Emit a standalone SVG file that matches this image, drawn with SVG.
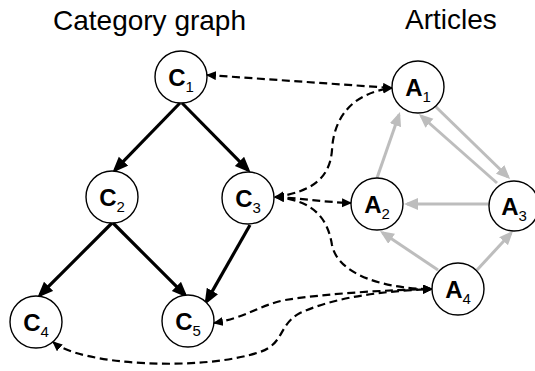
<svg xmlns="http://www.w3.org/2000/svg" width="535" height="371" viewBox="0 0 535 371">
  <style>
    .title { font-family: "Liberation Sans", Arial, sans-serif; font-size: 28px; fill: #000; }
    .node circle { fill: #fff; stroke: #000; stroke-width: 1.4; }
    .node text { font-family: "Liberation Sans", Arial, sans-serif; font-size: 24px; font-weight: bold; fill: #000; text-anchor: middle; }
    .node tspan { font-size: 15px; font-weight: normal; }
    .tree { fill: none; stroke: #000; stroke-width: 3.2; marker-end: url(#headBlack); }
    .link { fill: none; stroke: #bdbdbd; stroke-width: 3; marker-end: url(#headGray); }
    .assoc { fill: none; stroke: #000; stroke-width: 2.2; stroke-dasharray: 8 4.5; marker-start: url(#headDash); marker-end: url(#headDash); }
  </style>
  <defs>
    <marker id="headBlack" markerUnits="userSpaceOnUse" markerWidth="17" markerHeight="14" refX="12" refY="6.5" orient="auto">
      <path d="M0,0 L16,6.5 L0,13 z" fill="#000"/>
    </marker>
    <marker id="headGray" markerUnits="userSpaceOnUse" markerWidth="15" markerHeight="13" refX="11" refY="6" orient="auto">
      <path d="M0,0 L14,6 L0,12 z" fill="#bdbdbd"/>
    </marker>
    <marker id="headDash" markerUnits="userSpaceOnUse" markerWidth="11" markerHeight="10" refX="9" refY="4.5" orient="auto-start-reverse">
      <path d="M0,0 L10,4.5 L0,9 z" fill="#000"/>
    </marker>
  </defs>

  <text class="title" x="53" y="30">Category graph</text>
  <text class="title" x="405" y="29">Articles</text>

  <g id="connectors">
    <!-- category hierarchy -->
    <path class="tree" d="M180,103 L115.1,169.8"/>
    <path class="tree" d="M182,103 L247.9,169.9"/>
    <path class="tree" d="M112,223 L40.1,294.9"/>
    <path class="tree" d="M113,223 L184.9,294.9"/>
    <path class="tree" d="M250,225 L206.5,301.4"/>
    <!-- article links -->
    <path class="link" d="M438,270 L382.5,232.7"/>
    <path class="link" d="M477,270 L511,233.2"/>
    <path class="link" d="M489,204 L407,204"/>
    <path class="link" d="M377,178 L399,114.8"/>
    <path class="link" d="M435,106 L508,177"/>
    <path class="link" d="M497,183 L421.2,116"/>
    <!-- category / article associations -->
    <path class="assoc" d="M207,75 L392,88"/>
    <path class="assoc" d="M275,197 C312,192 330,178 332,150 C334,112 358,92 392,88"/>
    <path class="assoc" d="M275,197 C300,198 322,202 351,203"/>
    <path class="assoc" d="M275,197 C315,200 328,220 332,245 C338,275 385,289 432,289"/>
    <path class="assoc" d="M214,323 C245,318 260,305 285,300 C330,293 390,290 432,289"/>
    <path class="assoc" d="M53,342 C80,365 200,372 260,352 C285,343 278,325 300,313 C340,295 390,291 432,289"/>
  </g>

  <g id="C1" class="node"><circle cx="181" cy="77" r="26"/><text x="181" y="86">C<tspan dy="6">1</tspan></text></g>
  <g id="C2" class="node"><circle cx="112" cy="197" r="26"/><text x="112" y="206">C<tspan dy="6">2</tspan></text></g>
  <g id="C3" class="node"><circle cx="248" cy="198" r="26"/><text x="248" y="207">C<tspan dy="6">3</tspan></text></g>
  <g id="C4" class="node"><circle cx="36" cy="322" r="26"/><text x="36" y="331">C<tspan dy="6">4</tspan></text></g>
  <g id="C5" class="node"><circle cx="188" cy="321" r="26"/><text x="188" y="330">C<tspan dy="6">5</tspan></text></g>

  <g id="A1" class="node"><circle cx="418" cy="87" r="26"/><text x="418" y="96">A<tspan dy="6">1</tspan></text></g>
  <g id="A2" class="node"><circle cx="377" cy="204" r="26"/><text x="377" y="213">A<tspan dy="6">2</tspan></text></g>
  <g id="A3" class="node"><circle cx="514" cy="206" r="25"/><text x="514" y="215">A<tspan dy="6">3</tspan></text></g>
  <g id="A4" class="node"><circle cx="458" cy="289" r="26"/><text x="458" y="298">A<tspan dy="6">4</tspan></text></g>
</svg>
